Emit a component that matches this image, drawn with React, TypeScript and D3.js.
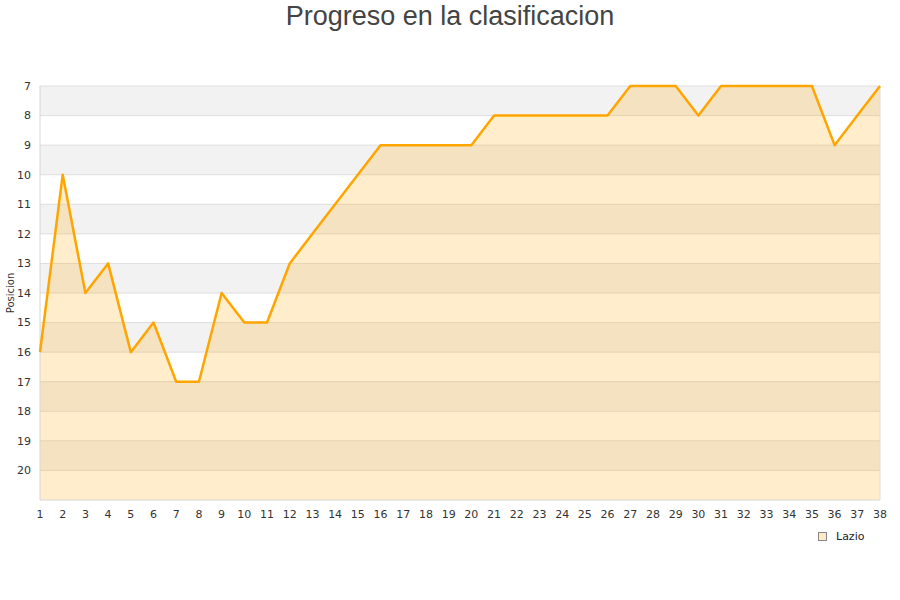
import React from "react";
import * as d3 from "d3";

const title = "Progreso en la clasificacion";
const yAxisTitle = "Posicion";
const teamName = "Lazio";
const rounds = d3.range(1, 39);
const positions = [16, 10, 14, 13, 16, 15, 17, 17, 14, 15, 15, 13, 12, 11, 10, 9, 9, 9, 9, 9, 8, 8, 8, 8, 8, 8, 7, 7, 7, 8, 7, 7, 7, 7, 7, 9, 8, 7];
const yTicks = d3.range(7, 21);

const W = 900;
const H = 600;
const margin = { left: 40, right: 20, top: 86, bottom: 100 };

export default function App() {
  const x = d3.scaleLinear().domain([1, 38]).range([margin.left, W - margin.right]);
  const y = d3.scaleLinear().domain([7, 21]).range([margin.top, H - margin.bottom]);
  const data = rounds.map((r, i) => ({ r, p: positions[i] }));
  const line = d3.line<{ r: number; p: number }>().x((d) => x(d.r)).y((d) => y(d.p));
  const area = d3
    .area<{ r: number; p: number }>()
    .x((d) => x(d.r))
    .y0(y(21))
    .y1((d) => y(d.p));
  const bands = d3.range(7, 21);
  const x0 = x(1);
  const x1 = x(38);

  return (
    <svg width={W} height={H} style={{ position: "absolute", left: 0, top: 0 }}>
      <rect width={W} height={H} fill="#fff" />
      <text x={W / 2} y={25} textAnchor="middle" fontFamily="Liberation Sans, Arial, sans-serif" fontSize={27} fill="#444">
        {title}
      </text>
      {bands.map((b) => (
        <rect key={b} x={x0} y={y(b)} width={x1 - x0} height={y(b + 1) - y(b)} fill={(b - 7) % 2 === 0 ? "#f2f2f2" : "#ffffff"} />
      ))}
      {yTicks.map((t) => (
        <line key={t} x1={x0} x2={x1} y1={y(t)} y2={y(t)} stroke="#dedede" strokeWidth={1} />
      ))}
      <path d={area(data) || ""} fill="#ffa500" fillOpacity={0.2} />
      <line x1={x0} x2={x0} y1={y(7)} y2={y(21)} stroke="#d6d6d6" />
      <line x1={x1} x2={x1} y1={y(7)} y2={y(21)} stroke="#dedede" />
      <line x1={x0} x2={x1} y1={y(21)} y2={y(21)} stroke="#d6d6d6" />
      <path d={line(data) || ""} fill="none" stroke="#ffa500" strokeWidth={2.5} strokeLinejoin="round" />
      {yTicks.map((t) => (
        <text key={"yl" + t} x={31} y={y(t)} dy="0.35em" textAnchor="end" fontFamily="DejaVu Sans, sans-serif" fontSize={11} fill="#333">
          {t}
        </text>
      ))}
      {rounds.map((r) => (
        <text key={"xl" + r} x={x(r)} y={518} textAnchor="middle" fontFamily="DejaVu Sans, sans-serif" fontSize={11} fill="#333">
          {r}
        </text>
      ))}
      <text transform={`translate(14,${(y(7) + y(21)) / 2}) rotate(-90)`} textAnchor="middle" fontFamily="DejaVu Sans, sans-serif" fontSize={10} fill="#333">
        {yAxisTitle}
      </text>
      <rect x={818.5} y={532.5} width={8} height={8} fill="#fdebc8" stroke="#888" strokeWidth={1} />
      <text x={836} y={540} fontFamily="DejaVu Sans, sans-serif" fontSize={11} fill="#222">
        {teamName}
      </text>
    </svg>
  );
}
